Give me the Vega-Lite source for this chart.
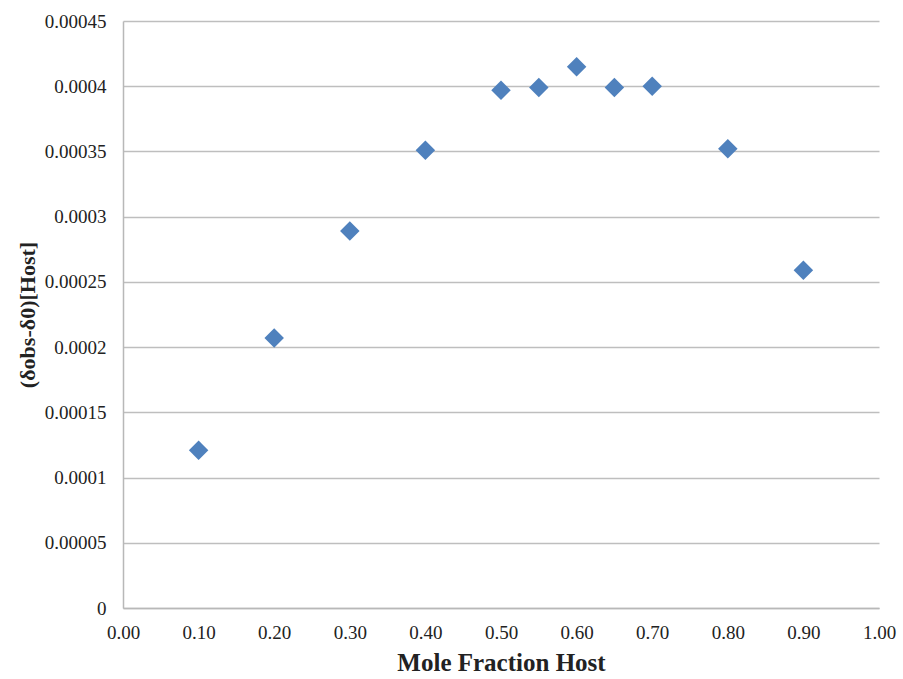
{
  "$schema": "https://vega.github.io/schema/vega-lite/v6.json",
  "width": 756,
  "height": 587,
  "autosize": {"type": "none"},
  "padding": {"left": 123, "top": 21, "right": 24, "bottom": 71},
  "background": "white",
  "config": {
    "view": {"stroke": null},
    "font": "Liberation Serif"
  },
  "data": {
    "values": [
      {"x": 0.10, "y": 0.000121},
      {"x": 0.20, "y": 0.000207},
      {"x": 0.30, "y": 0.000289},
      {"x": 0.40, "y": 0.000351},
      {"x": 0.50, "y": 0.000397},
      {"x": 0.55, "y": 0.000399},
      {"x": 0.60, "y": 0.000415},
      {"x": 0.65, "y": 0.000399},
      {"x": 0.70, "y": 0.000400},
      {"x": 0.80, "y": 0.000352},
      {"x": 0.90, "y": 0.000259}
    ]
  },
  "mark": {"type": "point", "shape": "diamond", "filled": true, "color": "#4F81BD", "opacity": 1, "size": 380},
  "encoding": {
    "x": {
      "field": "x", "type": "quantitative",
      "scale": {"domain": [0, 1], "nice": false, "zero": true},
      "axis": {
        "values": [0, 0.1, 0.2, 0.3, 0.4, 0.5, 0.6, 0.7, 0.8, 0.9, 1.0],
        "format": ".2f",
        "grid": false,
        "ticks": false,
        "domainColor": "#B8B8B8",
        "domainWidth": 1.5,
        "labelFont": "Liberation Serif",
        "labelFontSize": 19,
        "labelColor": "#222222",
        "labelPadding": 15,
        "labelFlush": false,
        "title": "Mole Fraction Host",
        "titleFont": "Liberation Serif",
        "titleFontSize": 25,
        "titleFontWeight": "bold",
        "titleColor": "#222222",
        "titlePadding": 8
      }
    },
    "y": {
      "field": "y", "type": "quantitative",
      "scale": {"domain": [0, 0.00045], "nice": false},
      "axis": {
        "values": [0, 0.00005, 0.0001, 0.00015, 0.0002, 0.00025, 0.0003, 0.00035, 0.0004, 0.00045],
        "format": ".5~f",
        "grid": true,
        "gridColor": "#BEBEBE",
        "gridWidth": 1.5,
        "ticks": false,
        "domainColor": "#B8B8B8",
        "domainWidth": 1.5,
        "labelFont": "Liberation Serif",
        "labelFontSize": 19,
        "labelColor": "#222222",
        "labelPadding": 17,
        "labelFlush": false,
        "title": "(δobs-δ0)[Host]",
        "titleFont": "Liberation Serif",
        "titleFontSize": 22,
        "titleFontWeight": "bold",
        "titleColor": "#222222",
        "titlePadding": 5
      }
    }
  }
}
